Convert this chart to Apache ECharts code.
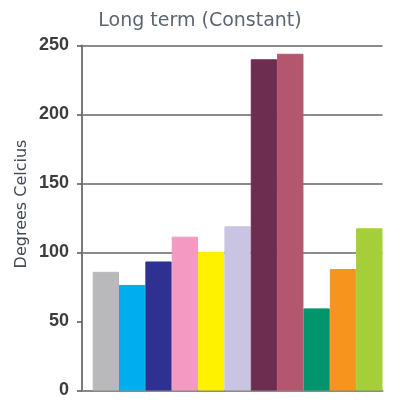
<!DOCTYPE html>
<html>
<head>
<meta charset="utf-8">
<script src="https://cdn.jsdelivr.net/npm/echarts@6/dist/echarts.min.js"></script>
<style>
  html, body { margin: 0; padding: 0; background: #fff; }
  #chart { width: 400px; height: 400px; }
</style>
</head>
<body>
<div id="chart"></div>
<script>
// Long term (Constant) - 11 unlabeled bars, degrees Celcius
const barValues = [86, 76.5, 93.5, 111.5, 100.5, 119, 240, 244, 59.5, 88, 117.5];
const barColors = ['#b9b9bb', '#00aeef', '#2e3192', '#f49ac1', '#fff200', '#c8c4e2',
                   '#6d2d50', '#b5566f', '#00956a', '#f7941d', '#a6ce39'];
const yTicks = [0, 50, 100, 150, 200, 250];

const chart = echarts.init(document.getElementById('chart'));

chart.setOption({
    animation: false,
    title: {
        text: 'Long term (Constant)',
        left: 'center',
        top: 7,
        textStyle: { fontFamily: 'DejaVu Sans', fontSize: 19, fontWeight: 'normal', color: '#5d6570' }
    },
    grid: { left: 82, right: 17.5, top: 45.5, bottom: 9.5 },
    xAxis: {
        type: 'value',
        min: -0.905,
        max: 10.5,
        axisLine: { show: true, onZero: false, lineStyle: { color: '#8a8a8a', width: 2 } },
        axisTick: { show: false },
        axisLabel: { show: false },
        splitLine: { show: false }
    },
    yAxis: {
        type: 'value',
        min: yTicks[0],
        max: yTicks[yTicks.length - 1],
        interval: 50,
        axisLine: { show: true, onZero: false, lineStyle: { color: '#7a7a7a', width: 2 } },
        axisTick: { show: true, length: 5, lineStyle: { color: '#555', width: 1.5 } },
        axisLabel: {
            margin: 13,
            fontFamily: 'Liberation Sans',
            fontWeight: 'bold',
            fontSize: 18,
            color: '#3d3d3d'
        },
        splitLine: {
            show: true,
            lineStyle: {
                color: ['rgba(0,0,0,0)', 'rgba(0,0,0,0)', '#666', '#666', '#666', '#666'],
                width: 1.5
            }
        }
    },
    graphic: [{
        type: 'text',
        x: 22,
        y: 204,
        rotation: Math.PI / 2,
        style: {
            text: 'Degrees Celcius',
            fontFamily: 'DejaVu Sans',
            fontSize: 16,
            fill: '#434c56',
            textAlign: 'center',
            textVerticalAlign: 'middle'
        }
    }],
    series: [{
        type: 'bar',
        barWidth: '100%',
        data: barValues.map((v, i) => ({
            value: [i, v],
            // same-colour border closes the hairline seams between bars
            itemStyle: { color: barColors[i], borderColor: barColors[i], borderWidth: 1 }
        }))
    }]
});
</script>
</body>
</html>
